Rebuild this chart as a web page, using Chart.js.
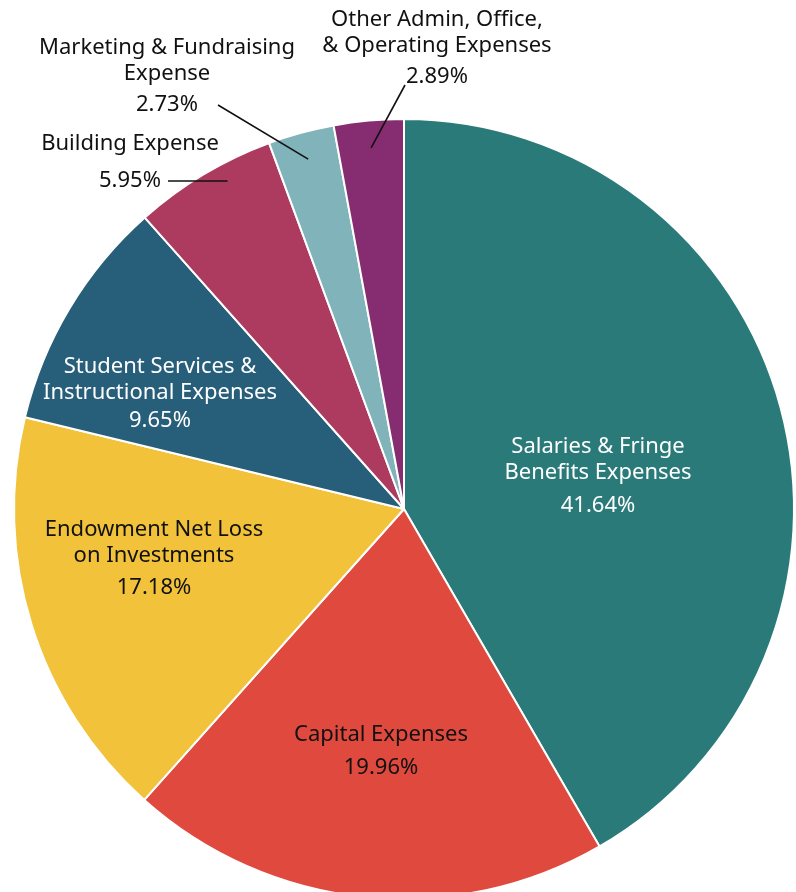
<!DOCTYPE html>
<html>
<head>
<meta charset="utf-8">
<script src="https://cdn.jsdelivr.net/npm/chart.js@4.4.1/dist/chart.umd.min.js"></script>
<style>
html, body { margin: 0; padding: 0; background: #fff; overflow: hidden; }
#wrap { position: absolute; left: 0; top: 0; width: 808px; height: 900px; }
</style>
</head>
<body>
<div id="wrap"><canvas id="expenseChart" width="808" height="900"></canvas></div>
<script>

// chart data

const categories = [
  ["Salaries & Fringe", "Benefits Expenses"],
  ["Capital Expenses"],
  ["Endowment Net Loss", "on Investments"],
  ["Student Services &", "Instructional Expenses"],
  ["Building Expense"],
  ["Marketing & Fundraising", "Expense"],
  ["Other Admin, Office,", "& Operating Expenses"]
];

const percents = [41.64, 19.96, 17.18, 9.65, 5.95, 2.73, 2.89];

const colors = ["#2a7a79", "#e0493d", "#f2c23b", "#275e79", "#ad3a5f", "#80b3ba", "#862c70"];

// label placement, offsets from the pie centre (first line y, centre x)

const labelLayout = [
  { dx: 194, dy: -62, gap: 33, color: "#ffffff" },
  { dx: -23, dy: 226, gap: 33, color: "#111111" },
  { dx: -250, dy: 21, gap: 32, color: "#111111" },
  { dx: -244, dy: -142, gap: 28, color: "#ffffff" },
  { dx: -274, dy: -365, gap: 37, color: "#111111", lineFrom: [168, 181], flat: true },
  { dx: -237, dy: -461, gap: 31, color: "#111111", lineFrom: [218, 105] },
  { dx: 33, dy: -489, gap: 31, color: "#111111", lineFrom: [405, 85] }
];

const FONT = "22px 'Noto Sans', sans-serif";

// draw labels and leader lines

const labelPlugin = {
  id: "pieLabels",
  afterDatasetsDraw(chart) {
    const ctx = chart.ctx;
    const meta = chart.getDatasetMeta(0);
    ctx.save();
    ctx.font = FONT;
    ctx.textAlign = "center";
    ctx.textBaseline = "middle";

    meta.data.forEach((arc, i) => {
      const lay = labelLayout[i];
      const cx = arc.x, cy = arc.y;
      const x = cx + lay.dx;
      let y = cy + lay.dy;
      const lines = categories[i];

      ctx.fillStyle = lay.color;
      lines.forEach((line, j) => {
        ctx.fillText(line, x, y + j * 26);
      });
      const py = y + (lines.length - 1) * 26 + lay.gap;
      ctx.fillText(percents[i].toFixed(2) + "%", x, py);

      if (lay.lineFrom) {
        const mid = (arc.startAngle + arc.endAngle) / 2;
        let ex, ey;
        if (lay.flat) {
          const r = arc.outerRadius * 0.955;
          ey = lay.lineFrom[1];
          ex = cx - Math.sqrt(r * r - (ey - cy) * (ey - cy));
        } else {
          const r = arc.outerRadius * 0.93;
          ex = cx + Math.cos(mid) * r;
          ey = cy + Math.sin(mid) * r;
        }
        ctx.strokeStyle = "#111111";
        ctx.lineWidth = 1.6;
        ctx.beginPath();
        ctx.moveTo(lay.lineFrom[0], lay.lineFrom[1]);
        ctx.lineTo(ex, ey);
        ctx.stroke();
      }
    });

    ctx.restore();
  }
};

let chart = new Chart(document.getElementById("expenseChart").getContext("2d"), {
  type: "pie",
  data: {
    labels: categories,
    datasets: [{
      data: percents,
      backgroundColor: colors,
      borderColor: "#ffffff",
      borderWidth: 2
    }]
  },
  options: {
    responsive: false,
    animation: false,
    devicePixelRatio: 1,
    layout: { padding: { top: 118, left: 13, right: 13, bottom: 0 } },
    plugins: {
      legend: { display: false },
      tooltip: { enabled: false }
    }
  },
  plugins: [labelPlugin]
});

</script>
</body>
</html>
